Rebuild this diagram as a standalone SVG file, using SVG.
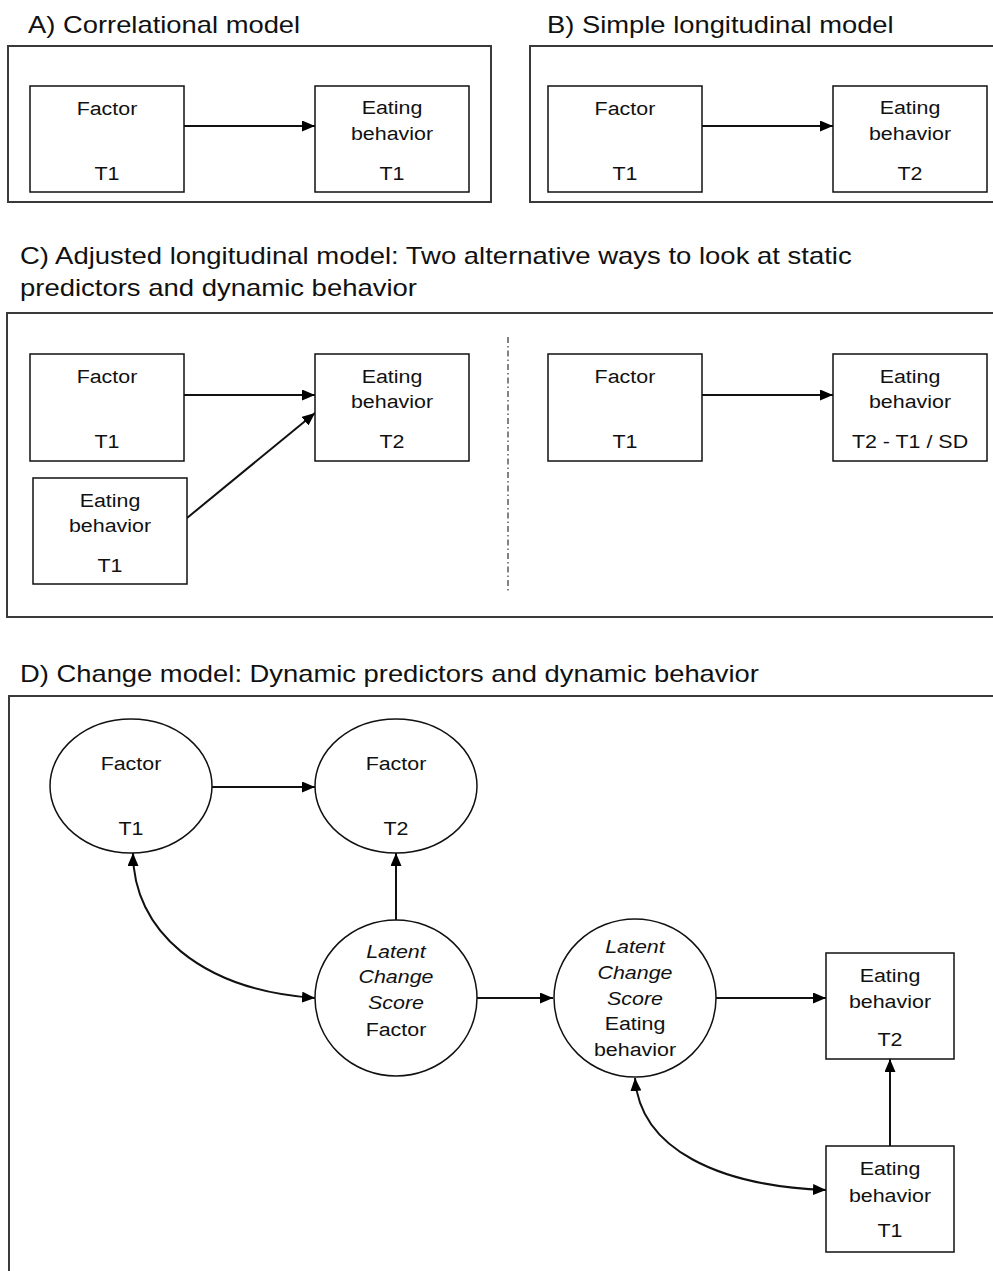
<svg xmlns="http://www.w3.org/2000/svg" width="993" height="1271" viewBox="0 0 993 1271">
<style>
  text { font-family: "Liberation Sans", Arial, sans-serif; fill: #111; }
  .title { font-size: 23px; transform-box: fill-box; transform-origin: left center; transform: scaleX(1.19); }
  .lbl { font-size: 18.8px; text-anchor: middle; transform-box: fill-box; transform-origin: center; transform: scaleX(1.14); }
  .it { font-style: italic; }
  .panel { fill: none; stroke: #3a3a3a; stroke-width: 2; }
  .node { fill: #fff; stroke: #111; stroke-width: 1.5; }
  .conn { fill: none; stroke: #111; stroke-width: 2; }
  .arr { marker-end: url(#ah); }
  .dbl { marker-start: url(#ah); marker-end: url(#ah); }
  .div { fill: none; stroke: #333; stroke-width: 1.2; stroke-dasharray: 6 3 1.5 3; }
</style>
<defs>
  <marker id="ah" markerUnits="userSpaceOnUse" markerWidth="13" markerHeight="11" refX="13" refY="5.5" orient="auto-start-reverse" viewBox="0 0 13 11">
    <path d="M0,0 L13,5.5 L0,11 z" fill="#000"/>
  </marker>
</defs>
<rect width="993" height="1271" fill="#fff"/>

<!-- Panel frames and titles -->
<g id="panelA">
  <text class="title" x="28" y="33">A) Correlational model</text>
  <rect class="panel" x="8" y="46" width="483" height="156"/>
</g>
<g id="panelB">
  <text class="title" x="547" y="33">B) Simple longitudinal model</text>
  <rect class="panel" x="530" y="46" width="480" height="156"/>
</g>
<g id="panelC">
  <text class="title" x="20" y="264" style="transform: scaleX(1.195)">C) Adjusted longitudinal model: Two alternative ways to look at static</text>
  <text class="title" x="20" y="296" style="transform: scaleX(1.195)">predictors and dynamic behavior</text>
  <rect class="panel" x="7" y="313" width="1000" height="304"/>
  <line class="div" x1="508" y1="337" x2="508" y2="592"/>
</g>
<g id="panelD">
  <text class="title" x="20" y="682" style="transform: scaleX(1.19)">D) Change model: Dynamic predictors and dynamic behavior</text>
  <rect class="panel" x="9" y="696" width="1000" height="600"/>
</g>

<!-- Connectors -->
<g id="connectors">
  <line class="conn arr" x1="184" y1="126" x2="315" y2="126"/>
  <line class="conn arr" x1="702" y1="126" x2="833" y2="126"/>
  <line class="conn arr" x1="184" y1="395" x2="315" y2="395"/>
  <line class="conn arr" x1="187" y1="518" x2="315" y2="413"/>
  <line class="conn arr" x1="702" y1="395" x2="833" y2="395"/>
  <line class="conn arr" x1="212" y1="787" x2="315" y2="787"/>
  <line class="conn arr" x1="396" y1="920" x2="396" y2="853"/>
  <path class="conn dbl" d="M133,853 C133,930 200,990 315,998"/>
  <line class="conn arr" x1="477" y1="998" x2="553" y2="998"/>
  <line class="conn arr" x1="716" y1="998" x2="826" y2="998"/>
  <line class="conn arr" x1="890" y1="1146" x2="890" y2="1059"/>
  <path class="conn dbl" d="M635,1078 C640,1150 720,1186 826,1190"/>
</g>

<!-- Panel A nodes -->
<g id="A_factor_t1">
  <rect class="node" x="30" y="86" width="154" height="106"/>
  <text class="lbl" x="107" y="115">Factor</text>
  <text class="lbl" x="107" y="180">T1</text>
</g>
<g id="A_eating_t1">
  <rect class="node" x="315" y="86" width="154" height="106"/>
  <text class="lbl" x="392" y="114">Eating</text>
  <text class="lbl" x="392" y="140">behavior</text>
  <text class="lbl" x="392" y="180">T1</text>
</g>

<!-- Panel B nodes -->
<g id="B_factor_t1">
  <rect class="node" x="548" y="86" width="154" height="106"/>
  <text class="lbl" x="625" y="115">Factor</text>
  <text class="lbl" x="625" y="180">T1</text>
</g>
<g id="B_eating_t2">
  <rect class="node" x="833" y="86" width="154" height="106"/>
  <text class="lbl" x="910" y="114">Eating</text>
  <text class="lbl" x="910" y="140">behavior</text>
  <text class="lbl" x="910" y="180">T2</text>
</g>

<!-- Panel C nodes -->
<g id="C_factor_t1">
  <rect class="node" x="30" y="354" width="154" height="107"/>
  <text class="lbl" x="107" y="383">Factor</text>
  <text class="lbl" x="107" y="448">T1</text>
</g>
<g id="C_eating_t2">
  <rect class="node" x="315" y="354" width="154" height="107"/>
  <text class="lbl" x="392" y="383">Eating</text>
  <text class="lbl" x="392" y="408">behavior</text>
  <text class="lbl" x="392" y="448">T2</text>
</g>
<g id="C_eating_t1">
  <rect class="node" x="33" y="478" width="154" height="106"/>
  <text class="lbl" x="110" y="507">Eating</text>
  <text class="lbl" x="110" y="532">behavior</text>
  <text class="lbl" x="110" y="572">T1</text>
</g>
<g id="C2_factor_t1">
  <rect class="node" x="548" y="354" width="154" height="107"/>
  <text class="lbl" x="625" y="383">Factor</text>
  <text class="lbl" x="625" y="448">T1</text>
</g>
<g id="C2_eating_diff">
  <rect class="node" x="833" y="354" width="154" height="107"/>
  <text class="lbl" x="910" y="383">Eating</text>
  <text class="lbl" x="910" y="408">behavior</text>
  <text class="lbl" x="910" y="448">T2 - T1 / SD</text>
</g>

<!-- Panel D nodes -->
<g id="D_factor_t1">
  <ellipse class="node" cx="131" cy="786" rx="81" ry="67"/>
  <text class="lbl" x="131" y="770">Factor</text>
  <text class="lbl" x="131" y="835">T1</text>
</g>
<g id="D_factor_t2">
  <ellipse class="node" cx="396" cy="786" rx="81" ry="67"/>
  <text class="lbl" x="396" y="770">Factor</text>
  <text class="lbl" x="396" y="835">T2</text>
</g>
<g id="D_lcs_factor">
  <ellipse class="node" cx="396" cy="998" rx="81" ry="78"/>
  <text class="lbl it" x="396" y="958">Latent</text>
  <text class="lbl it" x="396" y="983">Change</text>
  <text class="lbl it" x="396" y="1009">Score</text>
  <text class="lbl" x="396" y="1036">Factor</text>
</g>
<g id="D_lcs_eating">
  <ellipse class="node" cx="635" cy="998" rx="81" ry="79"/>
  <text class="lbl it" x="635" y="953">Latent</text>
  <text class="lbl it" x="635" y="979">Change</text>
  <text class="lbl it" x="635" y="1005">Score</text>
  <text class="lbl" x="635" y="1030">Eating</text>
  <text class="lbl" x="635" y="1056">behavior</text>
</g>
<g id="D_eating_t2">
  <rect class="node" x="826" y="953" width="128" height="106"/>
  <text class="lbl" x="890" y="982">Eating</text>
  <text class="lbl" x="890" y="1008">behavior</text>
  <text class="lbl" x="890" y="1046">T2</text>
</g>
<g id="D_eating_t1">
  <rect class="node" x="826" y="1146" width="128" height="106"/>
  <text class="lbl" x="890" y="1175">Eating</text>
  <text class="lbl" x="890" y="1202">behavior</text>
  <text class="lbl" x="890" y="1237">T1</text>
</g>
</svg>
